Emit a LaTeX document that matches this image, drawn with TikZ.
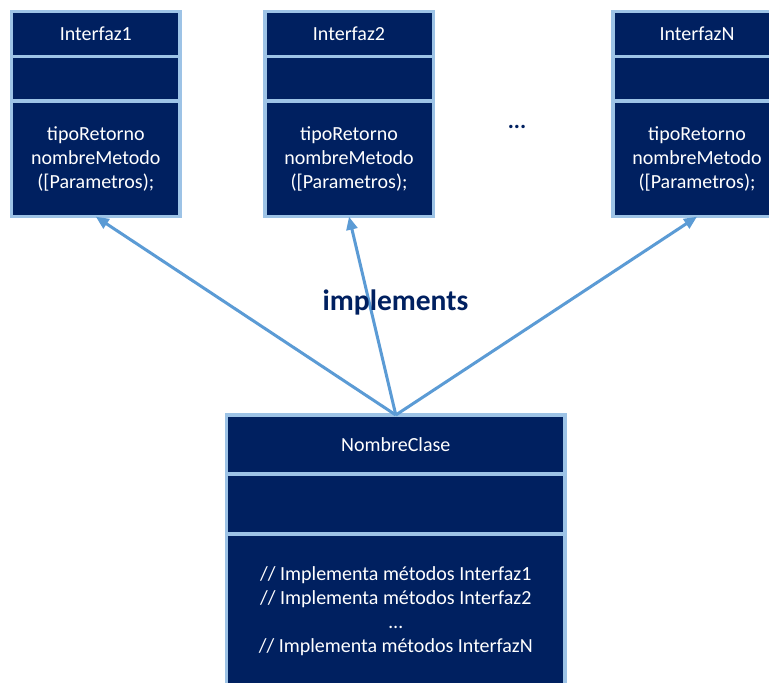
\documentclass[tikz,border=0pt]{standalone}
\usepackage{fontspec}
\setmainfont{Carlito}
\usetikzlibrary{arrows.meta,positioning}
\definecolor{UmlNavy}{HTML}{002060}
\definecolor{UmlEdge}{HTML}{9DC3E6}
\definecolor{UmlArrow}{HTML}{5B9BD5}

\begin{document}
\begin{tikzpicture}[
  x=1pt, y=-1pt,
  node distance=0pt,
  part/.style={draw=UmlEdge, line width=3.5pt, fill=UmlNavy, text=white, outer sep=0pt, inner sep=0pt, align=center, font=\fontsize{20}{24}\selectfont},
  ifacehead/.style={part, minimum width=168.5pt, minimum height=45.2pt},
  ifacemid/.style={part, minimum width=168.5pt, minimum height=44.3pt},
  ifacebody/.style={part, minimum width=168.5pt, minimum height=115.7pt},
  classhead/.style={part, minimum width=338.3pt, minimum height=59pt},
  classmid/.style={part, minimum width=338.3pt, minimum height=60pt},
  classbody/.style={part, minimum width=338.3pt, minimum height=154pt},
  implarrow/.style={-{Triangle[length=13pt, width=11pt]}, line width=3pt, color=UmlArrow}
]
  \useasboundingbox (0,0) rectangle (769,683);
  \fill[white] (0,0) rectangle (769,683);
  \clip (0,0) rectangle (769,683);

  % interfaces
  \node[ifacehead] (ifaceA) at (95.8,34.1) {Interfaz1};
  \node[ifacemid, below=of ifaceA] (ifaceAmid) {};
  \node[ifacebody, below=of ifaceAmid] (ifaceAbody) {tipoRetorno\\nombreMetodo\\([Parametros);};

  \node[ifacehead] (ifaceB) at (349,34.1) {Interfaz2};
  \node[ifacemid, below=of ifaceB] (ifaceBmid) {};
  \node[ifacebody, below=of ifaceBmid] (ifaceBbody) {tipoRetorno\\nombreMetodo\\([Parametros);};

  \node[ifacehead] (ifaceN) at (697,34.1) {InterfazN};
  \node[ifacemid, below=of ifaceN] (ifaceNmid) {};
  \node[ifacebody, below=of ifaceNmid] (ifaceNbody) {tipoRetorno\\nombreMetodo\\([Parametros);};

  \node[font=\fontsize{23}{24}\selectfont\bfseries, text=UmlNavy] (dots) at (517,127) {...};

  % implementing class
  \node[classhead] (clase) at (395.8,444.5) {NombreClase};
  \node[classmid, below=of clase] (clasemid) {};
  \node[classbody, below=of clasemid] (clasebody) {// Implementa métodos Interfaz1\\// Implementa métodos Interfaz2\\…\\// Implementa métodos InterfazN};

  \draw[implarrow] (clase.north) -- (ifaceAbody.south);
  \draw[implarrow] (clase.north) -- (ifaceBbody.south);
  \draw[implarrow] (clase.north) -- (ifaceNbody.south);

  \node[font=\fontsize{29.5}{34}\selectfont\bfseries, text=UmlNavy] (impl) at (395.5,302) {implements};
\end{tikzpicture}
\end{document}
